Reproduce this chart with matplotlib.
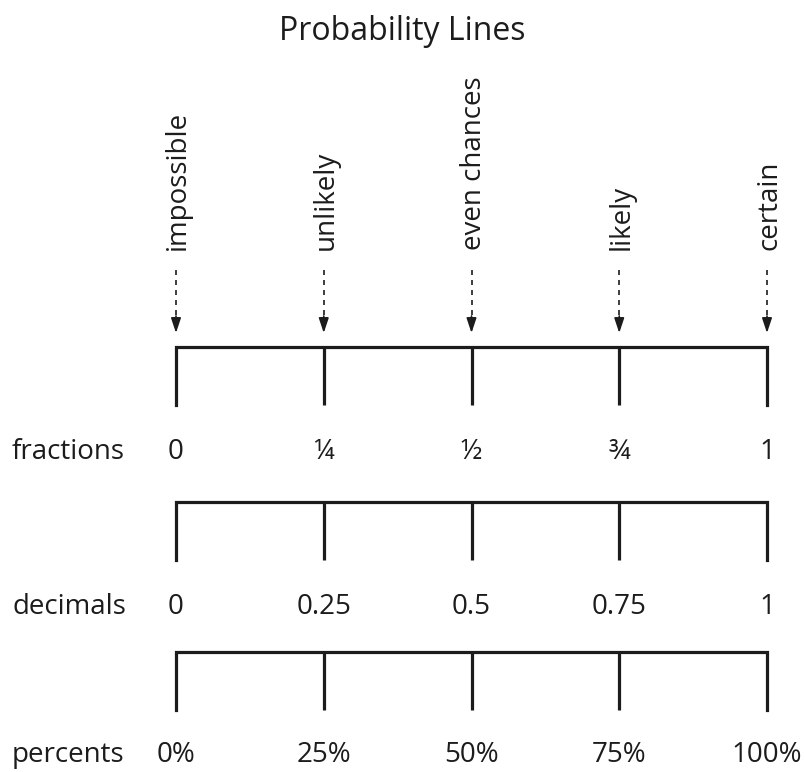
import matplotlib.pyplot as plt
import matplotlib.transforms as mtransforms

plt.rcParams['font.family'] = ['Open Sans', 'DejaVu Sans']

#-----Data-----#
probs = [0, 0.25, 0.5, 0.75, 1]
words = ["impossible", "unlikely", "even chances", "likely", "certain"]
fractions = ["0", "\u00bc", "\u00bd", "\u00be", "1"]
decimals = ["0", "0.25", "0.5", "0.75", "1"]
percents = ["0%", "25%", "50%", "75%", "100%"]
rowNames = ["fractions", "decimals", "percents"]
rowLabels = [fractions, decimals, percents]

#-----Layout (pixels from top)-----#
W, H = 805, 772
x0, x1 = 176, 767
lineTops = [347, 502, 652]
tickLen = 58
labelY = [452, 607, 755]
ink = "#1c1c1c"
fs = 20

fig = plt.figure(figsize=(W / 100, H / 100), dpi=100)
ax = fig.add_axes([0, 0, 1, 1])
scale = x1 - x0
ax.set_xlim(-x0 / scale, (W - x0) / scale)
ax.set_ylim(H, 0)
ax.axis("off")

ax.text(0.5, 31, "Probability Lines", fontsize=23, ha="center", va="center", color=ink,
        transform=mtransforms.blended_transform_factory(ax.transAxes, ax.transData))

# words + dashed arrows
for p, w in zip(probs, words):
    ax.text(p + 0.004, 250, w, rotation=90, fontsize=fs, ha="center", va="bottom", color=ink)
    ax.plot([p, p], [270, 322], color=ink, linestyle=(0, (3, 3)), linewidth=1.2)
    ax.annotate("", xy=(p, 333), xytext=(p, 316),
                arrowprops=dict(arrowstyle="-|>,head_length=0.9,head_width=0.3",
                                color=ink, linewidth=1.2, shrinkA=0, shrinkB=0))

# number lines
leftTrans = mtransforms.blended_transform_factory(fig.transFigure, ax.transData)
for top, ly, name, labels in zip(lineTops, labelY, rowNames, rowLabels):
    bottom = top + tickLen
    ax.plot([probs[0], probs[0], probs[-1], probs[-1]], [bottom, top, top, bottom],
            color=ink, linewidth=2.3, solid_joinstyle="miter")
    ax.vlines(probs[1:-1], top, bottom, color=ink, linewidth=2.3)
    ax.text(12 / W, ly, name, fontsize=fs, ha="left", va="center", color=ink, transform=leftTrans)
    for p, lab in zip(probs, labels):
        ax.text(p, ly, lab, fontsize=fs, ha="center", va="center", color=ink)

fig.savefig("out.png", dpi=100)
